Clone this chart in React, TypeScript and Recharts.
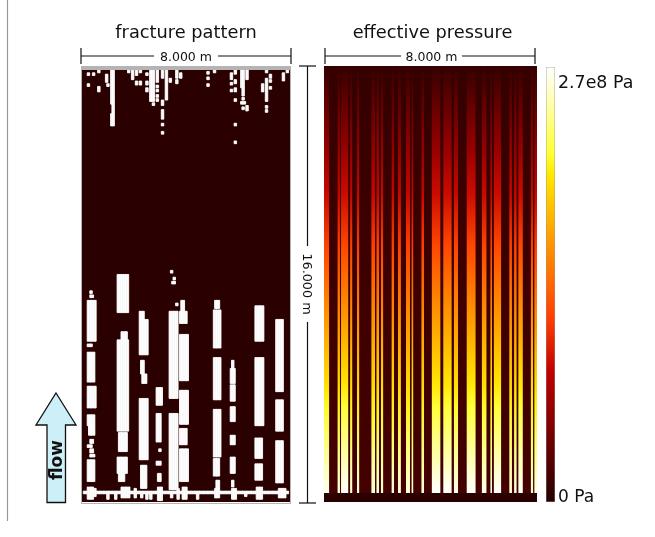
import { Bar, BarChart, XAxis, YAxis } from 'recharts';

const FONT = '"DejaVu Sans", sans-serif';
const DARK = '#2b0000';

// domain size in metres
const DOMAIN_WIDTH = 8;
const DOMAIN_HEIGHT = 16;
const COLUMN_WIDTH = 0.05;
const MAX_PRESSURE = 2.7e8;

// fracture blocks as [x0, x1, depthTop, depthBottom] in metres
const upperFractures = [
    [1.1, 1.25, 0.1, 1.4], [1.15, 1.25, 1.4, 1.75], [1.1, 1.25, 1.75, 2.2],
    [1.9, 2.0, 0.1, 0.5], [2.05, 2.15, 0.1, 0.35], [2.6, 2.8, 0.1, 1.3],
    [2.85, 2.95, 0.1, 0.6], [3.05, 3.15, 0.1, 0.45], [3.2, 3.3, 0.1, 1.25],
    [3.05, 3.15, 1.25, 1.45], [3.05, 3.15, 1.6, 1.95], [3.05, 3.15, 2.1, 2.2],
    [3.05, 3.15, 2.4, 2.5], [3.6, 3.7, 0.1, 0.45], [3.6, 3.7, 0.5, 0.65],
    [3.75, 3.85, 0.25, 0.45], [3.35, 3.45, 0.45, 0.6], [4.8, 4.9, 0.2, 0.3],
    [4.8, 4.9, 0.4, 0.5], [4.8, 4.9, 0.65, 0.75], [5.05, 5.15, 0.15, 0.25],
    [5.7, 5.8, 0.25, 0.5], [5.7, 5.8, 0.6, 0.7], [5.7, 5.8, 0.85, 0.95],
    [5.85, 5.95, 0.8, 0.95], [5.85, 5.95, 0.1, 0.3], [5.85, 5.95, 0.5, 0.65],
    [5.85, 5.95, 1.2, 1.3], [5.85, 5.95, 2.1, 2.2], [5.85, 5.95, 2.75, 2.85],
    [6.1, 6.25, 0.1, 0.8], [6.15, 6.25, 0.8, 1.1], [6.15, 6.25, 1.15, 1.25],
    [6.1, 6.3, 1.3, 1.4], [6.3, 6.4, 1.45, 1.65], [6.15, 6.25, 1.5, 1.6],
    [6.3, 6.4, 0.1, 0.5], [7.05, 7.15, 0.1, 0.25], [7.05, 7.15, 0.45, 1.3],
    [6.9, 7.0, 0.65, 0.95], [7.2, 7.3, 0.3, 0.45], [7.2, 7.3, 0.5, 0.6],
    [7.2, 7.3, 0.75, 0.85], [7.05, 7.15, 1.45, 1.55], [7.05, 7.15, 1.6, 1.7],
    [7.7, 7.8, 0.25, 0.55], [7.85, 7.95, 0.1, 0.25], [0.2, 0.3, 0.25, 0.35],
    [0.2, 0.3, 0.65, 0.75], [0.4, 0.5, 0.25, 0.35], [0.6, 0.7, 0.15, 0.25],
    [0.6, 0.7, 0.75, 0.95], [0.9, 1.0, 0.3, 0.6], [0.95, 1.05, 0.65, 0.75],
    [1.75, 1.85, 0.1, 0.25], [2.2, 2.3, 0.1, 0.25], [2.05, 2.15, 0.55, 0.7],
    [2.2, 2.3, 0.55, 0.7], [2.45, 2.55, 0.25, 0.35], [2.45, 2.55, 0.55, 0.7],
    [2.45, 2.55, 0.8, 0.95], [2.85, 2.95, 0.7, 0.8], [2.85, 2.95, 0.85, 0.95],
    [2.85, 2.95, 1.05, 1.15], [2.85, 2.95, 1.2, 1.3], [2.7, 2.8, 1.35, 1.45],
];

const middleFractures = [
    [0.2, 0.55, 8.6, 10.1], [0.3, 0.4, 8.25, 8.35], [0.3, 0.45, 8.4, 8.5],
    [0.2, 0.4, 10.2, 10.3], [1.35, 1.8, 7.65, 9.05], [2.2, 2.4, 9.0, 9.3],
    [2.2, 2.55, 9.3, 10.6], [3.35, 3.7, 9.0, 12.2], [3.8, 3.95, 8.6, 9.0],
    [3.75, 4.05, 9.0, 9.45], [3.75, 4.1, 9.85, 11.55], [5.05, 5.35, 8.95, 10.35],
    [5.1, 5.3, 8.6, 8.9], [6.65, 7.0, 8.8, 10.1], [7.45, 7.75, 9.3, 11.95],
    [0.2, 0.5, 10.5, 11.6], [1.35, 1.8, 10.05, 13.4], [1.5, 1.75, 9.75, 10.05],
    [2.25, 2.4, 10.8, 11.3], [2.3, 2.5, 11.3, 11.65], [5.05, 5.35, 10.7, 12.25],
    [5.75, 5.85, 10.8, 11.1], [5.7, 5.9, 11.1, 11.65], [6.65, 7.0, 10.7, 13.2],
    [3.4, 3.5, 7.5, 7.6], [3.5, 3.6, 7.75, 7.85], [3.45, 3.6, 7.9, 8.0],
    [3.6, 3.7, 8.7, 8.8], [2.95, 3.05, 11.8, 11.9],
];

const lowerFractures = [
    [0.2, 0.55, 11.75, 12.55], [0.2, 0.5, 12.8, 13.2], [0.25, 0.5, 13.2, 13.55],
    [0.3, 0.45, 13.7, 13.85], [0.2, 0.4, 13.9, 14.0], [0.3, 0.45, 14.05, 14.2],
    [0.3, 0.5, 14.25, 14.35], [0.2, 0.5, 14.45, 15.25], [1.4, 1.75, 13.45, 14.15],
    [1.35, 1.75, 14.35, 14.95], [1.4, 1.65, 14.95, 15.25], [2.2, 2.55, 12.2, 14.45],
    [2.25, 2.5, 14.65, 15.5], [2.85, 3.1, 11.8, 12.45], [2.85, 3.05, 12.75, 13.8],
    [2.95, 3.05, 14.05, 14.15], [2.85, 3.05, 14.5, 14.65], [2.9, 3.05, 14.95, 15.25],
    [3.35, 3.7, 12.75, 15.55], [3.75, 4.1, 11.9, 13.15], [3.75, 4.05, 13.3, 13.9],
    [3.75, 4.1, 14.05, 15.25], [5.05, 5.35, 12.6, 14.35], [5.05, 5.3, 14.4, 15.05],
    [5.15, 5.3, 15.2, 15.5], [5.7, 5.9, 11.7, 12.3], [5.7, 5.9, 12.5, 13.05],
    [5.7, 5.9, 13.55, 13.9], [5.7, 5.9, 14.35, 14.95], [5.75, 5.85, 15.2, 15.45],
    [6.65, 6.95, 13.65, 14.4], [6.65, 6.95, 14.6, 15.2], [7.45, 7.75, 12.25, 13.4],
    [7.45, 7.75, 13.75, 15.3],
];

// the horizontal fracture along the inlet, and the short teeth crossing it
const baseFractures = [
    [0.05, 7.95, 15.6, 15.7], [0.2, 0.45, 15.45, 15.9], [0.45, 0.55, 15.5, 15.8],
    [0.95, 1.05, 15.6, 15.9], [1.25, 1.35, 15.6, 15.9], [1.5, 1.85, 15.45, 15.85],
    [2.0, 2.1, 15.5, 15.85], [2.25, 2.35, 15.6, 15.85], [2.45, 2.55, 15.6, 15.9],
    [2.6, 2.7, 15.6, 15.9], [2.9, 3.1, 15.45, 15.95], [3.4, 3.5, 15.6, 15.85],
    [3.65, 3.75, 15.5, 15.9], [3.85, 4.05, 15.45, 15.9], [4.4, 4.5, 15.6, 15.9],
    [5.1, 5.3, 15.5, 15.85], [5.75, 5.95, 15.5, 15.9], [6.25, 6.35, 15.6, 15.8],
    [6.7, 6.95, 15.45, 15.9], [7.55, 7.85, 15.5, 15.85],
];

// effective pressure stripes: right edge in metres and peak pressure in Pa
const stripeEdges = [
    0.2, 0.51, 0.6, 0.64, 0.92, 0.98, 1.07, 1.24, 1.33, 1.78, 1.92, 1.97, 2.07,
    2.14, 2.23, 2.54, 2.63, 2.78, 2.89, 3.08, 3.23, 3.29, 3.36, 3.66, 3.76, 4.05,
    4.38, 4.48, 4.8, 4.88, 5.04, 5.36, 5.7, 5.93, 6.11, 6.25, 6.31, 6.38, 6.66,
    6.96, 7.06, 7.14, 7.24, 7.3, 7.47, 7.77, 7.86, 7.9, 8.0,
];
const stripePeaks = [
    2.65e8, 0.08e8, 2.6e8, 0.08e8, 2.7e8, 0.08e8, 2.6e8, 0.08e8, 2.6e8, 0.08e8,
    2.6e8, 0.08e8, 2.6e8, 0.08e8, 2.6e8, 0.08e8, 2.6e8, 0.08e8, 2.6e8, 0.08e8,
    2.6e8, 0.08e8, 2.6e8, 0.08e8, 2.6e8, 0.08e8, 2.7e8, 0.08e8, 2.7e8, 0.08e8,
    2.65e8, 0.08e8, 2.7e8, 0.08e8, 2.65e8, 0.08e8, 2.6e8, 0.08e8, 2.7e8, 0.08e8,
    2.6e8, 0.08e8, 2.6e8, 0.08e8, 2.7e8, 0.08e8, 2.6e8, 0.08e8, 2.6e8,
];
const pressureLevels = [0.08e8, 2.6e8, 2.65e8, 2.7e8];

const leftDepthTicks = Array.from({ length: 33 }, (_, i) => i * 0.5);
const rightDepthTicks = Array.from({ length: 25 }, (_, i) => i * 0.65);
const colorbarTicks = Array.from({ length: 19 }, (_, i) => i * 1.5e7);

const fractures = [
    ...upperFractures,
    ...middleFractures,
    ...lowerFractures,
    ...baseFractures,
];

// split the blocks into one stack per grid column: gap, run, gap, run...
const buildColumns = () => {
    const rows = [];
    let maxRuns = 0;
    for (let i = 0; i < DOMAIN_WIDTH / COLUMN_WIDTH; i++) {
        const mid = (i + 0.5) * COLUMN_WIDTH;
        const blocks = fractures
            .filter((b) => b[0] < mid && b[1] > mid)
            .sort((a, b) => a[2] - b[2]);
        const row: Record<string, number> = { col: i };
        let depth = 0;
        let run = 0;
        blocks.forEach((b) => {
            if (b[3] <= depth) return;
            const top = Math.max(b[2], depth);
            row[`gap${run}`] = top - depth;
            row[`run${run}`] = b[3] - top;
            depth = b[3];
            run++;
        });
        maxRuns = Math.max(maxRuns, run);
        rows.push(row);
    }
    return { rows, maxRuns };
};

const { rows: columnData, maxRuns } = buildColumns();

const stripeRow: Record<string, number | string> = { name: 'domain' };
stripeEdges.forEach((edge, i) => {
    stripeRow[`s${i}`] = edge - (i === 0 ? 0 : stripeEdges[i - 1]);
});

// hot colormap lifted to a dark red floor
const hot = (v: number) => {
    const c = (n: number) => Math.round(Math.max(0, Math.min(1, n)) * 255);
    const r = 0.15 + (0.85 * v) / 0.42;
    const g = (v - 0.3) / 0.5;
    const b = (v - 0.75) / 0.25;
    return `rgb(${c(r)},${c(g)},${c(b)})`;
};

const GRADIENT_STEPS = [0, 0.1, 0.2, 0.3, 0.42, 0.5, 0.6, 0.7, 0.75, 0.8, 0.9, 1];
const BASE_START = 97.9;

const panelStyle = (left: number, top: number) => ({
    position: 'absolute' as const,
    left,
    top,
});

const FracturePanel = () => (
    <div style={{ ...panelStyle(82, 66), background: DARK, filter: 'blur(0.5px)' }}>
        <BarChart
            width={208}
            height={436}
            data={columnData}
            margin={{ top: 0, right: 0, bottom: 0, left: 0 }}
            barCategoryGap={0}
            barGap={0}
        >
            <XAxis dataKey="col" type="category" hide />
            <YAxis type="number" domain={[0, DOMAIN_HEIGHT]} reversed hide />
            {Array.from({ length: maxRuns }).flatMap((_, i) => [
                <Bar
                    key={`gap${i}`}
                    dataKey={`gap${i}`}
                    stackId="f"
                    fill="none"
                    barSize={1.3}
                    isAnimationActive={false}
                />,
                <Bar
                    key={`run${i}`}
                    dataKey={`run${i}`}
                    stackId="f"
                    fill="#ffffff"
                    stroke="#ffffff"
                    strokeWidth={0.9}
                    barSize={1.3}
                    isAnimationActive={false}
                />,
            ])}
        </BarChart>
    </div>
);

const PressurePanel = () => (
    <div style={{ ...panelStyle(324, 66), background: DARK, filter: 'blur(0.45px)' }}>
        <BarChart
            layout="vertical"
            width={213}
            height={436}
            data={[stripeRow]}
            margin={{ top: 0, right: 0, bottom: 0, left: 0 }}
            barCategoryGap={0}
        >
            <defs>
                {pressureLevels.map((peak) => (
                    <linearGradient key={peak} id={`peak${peak}`} x1="0" y1="0" x2="0" y2="1">
                        {GRADIENT_STEPS.map((t) => (
                            <stop
                                key={t}
                                offset={`${t * BASE_START}%`}
                                stopColor={hot(0.03 + (peak / MAX_PRESSURE) * t * 0.97)}
                            />
                        ))}
                        <stop offset={`${BASE_START}%`} stopColor={DARK} />
                        <stop offset="100%" stopColor={DARK} />
                    </linearGradient>
                ))}
            </defs>
            <XAxis type="number" domain={[0, DOMAIN_WIDTH]} hide />
            <YAxis type="category" dataKey="name" hide />
            <YAxis
                yAxisId="depthLeft"
                type="number"
                domain={[0, DOMAIN_HEIGHT]}
                ticks={leftDepthTicks}
                mirror
                tick={false}
                axisLine={false}
                tickSize={3}
                tickLine={{ stroke: '#3a2a10' }}
            />
            <YAxis
                yAxisId="depthRight"
                orientation="right"
                type="number"
                domain={[0, DOMAIN_HEIGHT]}
                ticks={rightDepthTicks}
                mirror
                tick={false}
                axisLine={false}
                tickSize={3}
                tickLine={{ stroke: '#3a2a10' }}
            />
            {stripeEdges.map((_, i) => (
                <Bar
                    key={i}
                    dataKey={`s${i}`}
                    stackId="p"
                    fill={`url(#peak${stripePeaks[i]})`}
                    isAnimationActive={false}
                />
            ))}
        </BarChart>
    </div>
);

const Colorbar = () => (
    <div style={panelStyle(546, 67)}>
        <BarChart
            width={9}
            height={435}
            data={[{ name: 'scale', value: 2.75e8 }]}
            margin={{ top: 0, right: 0, bottom: 0, left: 0 }}
            barCategoryGap={0}
        >
            <defs>
                <linearGradient id="colorbar" x1="0" y1="1" x2="0" y2="0">
                    {GRADIENT_STEPS.map((t) => (
                        <stop key={t} offset={`${t * 100}%`} stopColor={hot(t)} />
                    ))}
                </linearGradient>
            </defs>
            <XAxis dataKey="name" hide />
            <YAxis
                orientation="right"
                type="number"
                domain={[0, 2.75e8]}
                ticks={colorbarTicks}
                mirror
                tick={false}
                axisLine={false}
                tickSize={3}
                tickLine={{ stroke: '#555' }}
            />
            <Bar
                dataKey="value"
                fill="url(#colorbar)"
                stroke="#999"
                strokeWidth={0.8}
                isAnimationActive={false}
            />
        </BarChart>
    </div>
);

const Dimension = ({ x1, x2, y, label, gap0, gap1 }: any) => (
    <g stroke="#111" strokeWidth={1.2}>
        <line x1={x1} x2={gap0} y1={y} y2={y} />
        <line x1={gap1} x2={x2} y1={y} y2={y} />
        <line x1={x1} x2={x1} y1={y - 8} y2={y + 8} />
        <line x1={x2} x2={x2} y1={y - 8} y2={y + 8} />
        <text
            x={(gap0 + gap1) / 2}
            y={y + 4.5}
            textAnchor="middle"
            fontSize={12.5}
            fill="#111"
            stroke="none"
        >
            {label}
        </text>
    </g>
);

const Annotations = () => (
    <svg
        width={655}
        height={537}
        style={{ position: 'absolute', left: 0, top: 0, filter: 'blur(0.25px)' }}
        fontFamily={FONT}
    >
        <line x1={7.5} x2={7.5} y1={0} y2={521} stroke="#999" strokeWidth={1.2} />
        <text x={186} y={38} textAnchor="middle" fontSize={17.8} fill="#111">
            fracture pattern
        </text>
        <text x={432.5} y={38} textAnchor="middle" fontSize={17.8} fill="#111">
            effective pressure
        </text>
        <Dimension x1={81} x2={291} y={56} gap0={154} gap1={218} label="8.000 m" />
        <Dimension x1={325} x2={535} y={56} gap0={401} gap1={462} label="8.000 m" />
        <g stroke="#111" strokeWidth={1.2}>
            <line x1={307.5} x2={307.5} y1={66} y2={246} />
            <line x1={307.5} x2={307.5} y1={322} y2={503} />
            <line x1={299} x2={316} y1={66} y2={66} />
            <line x1={299} x2={316} y1={503} y2={503} />
        </g>
        <text
            transform="translate(303,284) rotate(90)"
            textAnchor="middle"
            fontSize={12.8}
            fill="#111"
        >
            16.000 m
        </text>
        <polygon
            points="56,393 76,425 65.5,425 65.5,502.5 47,502.5 47,425 36,425"
            fill="#cdeff8"
            stroke="#111"
            strokeWidth={1.3}
        />
        <text
            transform="translate(62,460) rotate(-90)"
            textAnchor="middle"
            fontSize={17}
            fontWeight="bold"
            fill="#111"
        >
            flow
        </text>
        <text x={558} y={88} fontSize={17.4} fill="#111">
            2.7e8 Pa
        </text>
        <text x={558} y={502} fontSize={17} fill="#111">
            0 Pa
        </text>
    </svg>
);

const Frame = () => (
    <div
        style={{
            ...panelStyle(81, 66),
            width: 208,
            height: 433,
            borderStyle: 'solid',
            borderColor: '#b4b4b4',
            borderWidth: '4px 1.5px 1.5px 1.5px',
            filter: 'blur(0.3px)',
        }}
    />
);

export default function App() {
    return (
        <div
            style={{
                position: 'absolute',
                left: 0,
                top: 0,
                width: 655,
                height: 537,
                background: '#fff',
                overflow: 'hidden',
                fontFamily: FONT,
            }}
        >
            <Annotations />
            <FracturePanel />
            <Frame />
            <PressurePanel />
            <Colorbar />
        </div>
    );
}
